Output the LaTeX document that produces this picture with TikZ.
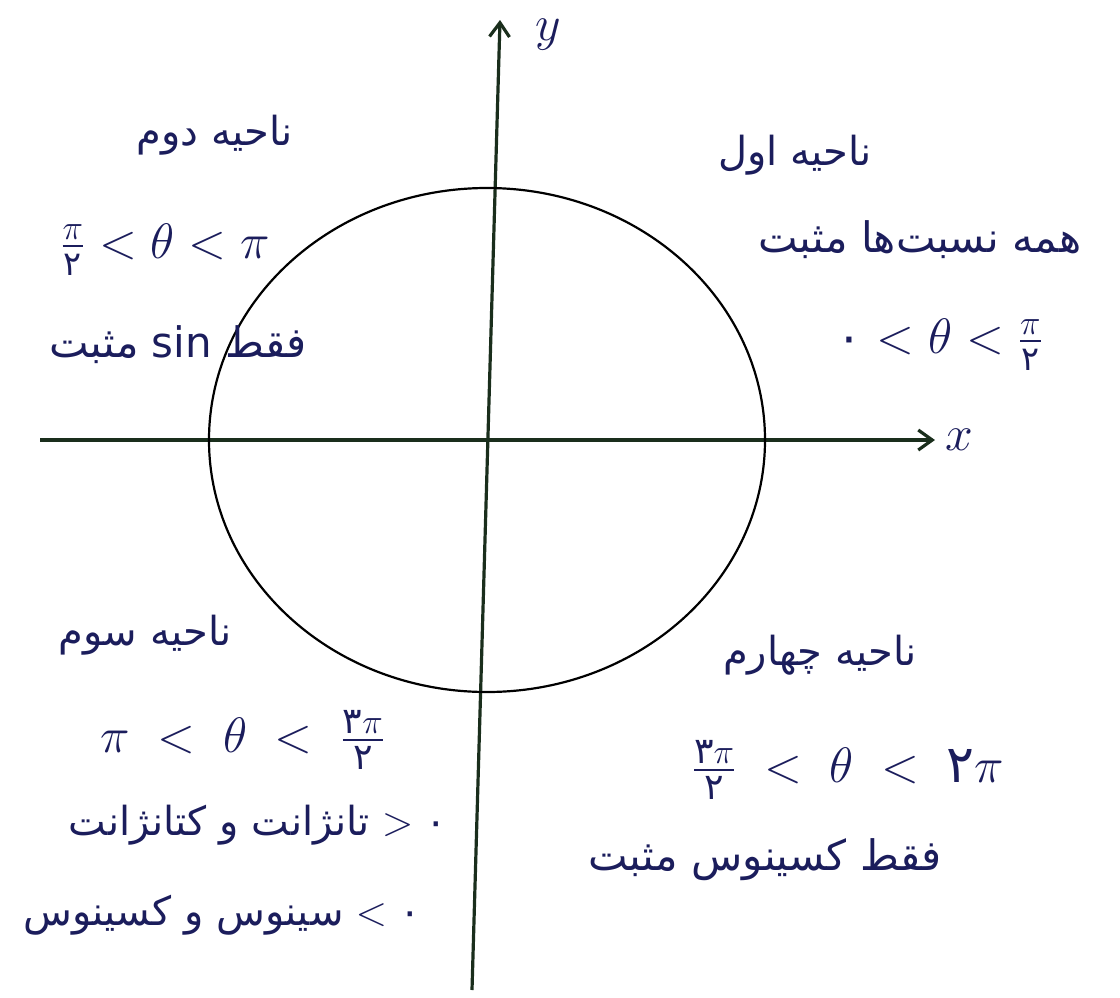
\documentclass[tikz,border=0pt]{standalone}
\usepackage{amsmath}
\usepackage{fontspec}
\newfontfamily\persianfont[Script=Arabic]{DejaVu Sans}
\TeXXeTstate=1
\usetikzlibrary{arrows.meta}
\definecolor{inkblue}{HTML}{1B1D5C}
\definecolor{axisgreen}{HTML}{1A2E1C}
\newcommand{\fa}[1]{\text{\persianfont #1}}
\newcommand{\rtl}[1]{{\persianfont\beginR #1\endR}}
\tikzset{
  quadtext/.style={text=inkblue, inner sep=0pt, font=\fontsize{20}{24}\selectfont},
  quadmath/.style={text=inkblue, inner sep=0pt, font=\fontsize{24}{28}\selectfont},
  axisline/.style={draw=axisgreen, line width=1.6pt, -{Straight Barb[length=7pt,width=10pt]}},
}
\begin{document}
\begin{tikzpicture}[x=0.5pt, y=-0.5pt]
  \useasboundingbox (0,0) rectangle (1120,997);
  % axes
  \coordinate (xfrom) at (40,440);
  \coordinate (xto) at (935,440);
  \coordinate (yfrom) at (472,990);
  \coordinate (yto) at (500,20);
  \coordinate (origin) at (487,440);
  \draw[axisline] (xfrom) -- (xto);
  \draw[axisline] (yfrom) -- (yto);
  \node[quadmath, anchor=west] (xlabel) at (945,440) {$x$};
  \node[quadmath] (ylabel) at (548,35) {$y$};
  % unit circle
  \draw[line width=1.1pt] (origin) ellipse [x radius=278, y radius=252];
  % first quadrant
  \node[quadtext] (q1title) at (795,155) {\rtl{ناحیه اول}};
  \node[quadtext, font=\fontsize{21}{24}\selectfont] (q1ratio) at (920,240) {\rtl{همه نسبت‌ها مثبت}};
  \node[quadmath] (q1range) at (940,345) {$\fa{۰} < \theta < \frac{\pi}{\fa{۲}}$};
  % second quadrant
  \node[quadtext] (q2title) at (215,135) {\rtl{ناحیه دوم}};
  \node[quadmath] (q2range) at (165,250) {$\frac{\pi}{\fa{۲}} < \theta < \pi$};
  \node[quadtext, font=\fontsize{21}{24}\selectfont] (q2sign) at (178,345) {\rtl{فقط \beginL sin\endL{} مثبت}};
  % third quadrant
  \node[quadtext] (q3title) at (145,635) {\rtl{ناحیه سوم}};
  \node[quadmath, font=\fontsize{26}{30}\selectfont] (q3range) at (243,740) {$\pi \;<\; \theta \;<\; \frac{\fa{۳}\pi}{\fa{۲}}$};
  \node[quadtext] (q3tan) at (258,825) {\rtl{تانژانت و کتانژانت} $>$ {\persianfont ۰}};
  \node[quadtext] (q3sin) at (222,915) {\rtl{سینوس و کسینوس} $<$ {\persianfont ۰}};
  % fourth quadrant
  \node[quadtext] (q4title) at (820,655) {\rtl{ناحیه چهارم}};
  \node[quadmath, font=\fontsize{26}{30}\selectfont] (q4range) at (848,770) {$\frac{\fa{۳}\pi}{\fa{۲}} \;<\; \theta \;<\; \fa{۲}\pi$};
  \node[quadtext, font=\fontsize{21}{24}\selectfont] (q4sign) at (765,860) {\rtl{فقط کسینوس مثبت}};
\end{tikzpicture}
\end{document}
